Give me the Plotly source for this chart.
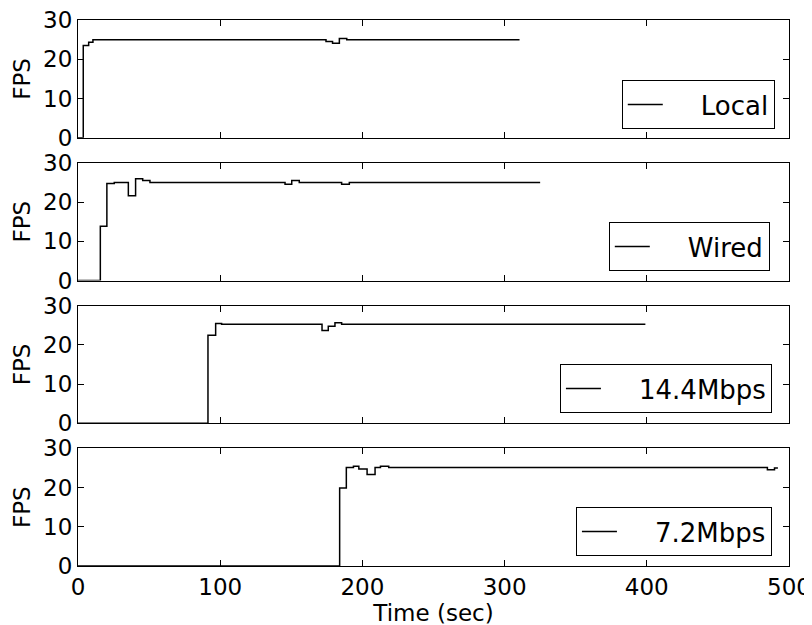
import plotly.graph_objects as go
from plotly.subplots import make_subplots

# ---- data (time in sec, FPS) ----
t_local = [0, 3.7, 7.5, 10.5, 174.4, 179.0, 183.8, 189.0, 310.5]
fps_local = [0, 23.5, 24.3, 25.0, 24.5, 24.1, 25.3, 25.0, 25.0]

t_wired = [0, 15.7, 20.3, 25.5, 35.4, 40.5, 45.5, 50.6, 145.6, 150.3, 155.6, 185.4, 190.8, 325.0]
fps_wired = [0, 13.8, 24.7, 25.0, 21.6, 25.9, 25.5, 25.0, 24.5, 25.5, 25.0, 24.5, 25.0, 25.0]

t_14 = [0, 91.4, 96.8, 101.0, 171.6, 176.0, 180.7, 185.4, 399.0]
fps_14 = [0, 22.4, 25.4, 25.2, 23.6, 24.7, 25.6, 25.2, 25.2]

t_72 = [0, 184.0, 188.7, 193.7, 197.5, 203.3, 208.9, 212.7, 218.5, 484.8, 489.8, 492.2]
fps_72 = [0, 19.9, 25.1, 25.4, 24.7, 23.3, 25.1, 25.4, 25.1, 24.5, 25.0, 25.0]

series = [
    ("Local", t_local, fps_local),
    ("Wired", t_wired, fps_wired),
    ("14.4Mbps", t_14, fps_14),
    ("7.2Mbps", t_72, fps_72),
]

x_ticks = [0, 100, 200, 300, 400, 500]
y_ticks = [0, 10, 20, 30]

FONT = "DejaVu Sans"
PAD = "\u00a0" * 4

fig = make_subplots(rows=4, cols=1, shared_xaxes=True, vertical_spacing=25 / 546)

legend_pos = [(0.980, 0.800), (0.973, 0.540), (0.976, 0.280), (0.976, 0.018)]

for i, (name, t, f) in enumerate(series):
    lg = "legend" if i == 0 else f"legend{i+1}"
    fig.add_trace(
        go.Scatter(x=t, y=f, mode="lines", name=PAD + name,
                   line=dict(color="black", width=1.5, shape="hv"),
                   legend=lg, showlegend=True),
        row=i + 1, col=1)
    lx, ly = legend_pos[i]
    fig.update_layout({lg: dict(x=lx, y=ly, xanchor="right", yanchor="bottom",
                                bordercolor="black", borderwidth=1, bgcolor="white",
                                font=dict(family=FONT, size=26, color="black"),
                                itemwidth=35, tracegroupgap=0)})
    fig.update_yaxes(row=i + 1, col=1, range=[0, 30], tickvals=y_ticks,
                     ticks="inside", ticklen=6, tickcolor="black", mirror="ticks",
                     showline=True, linecolor="black", linewidth=1, showgrid=False, zeroline=False,
                     automargin=False, ticklabeloverflow="allow",
                     tickfont=dict(family=FONT, size=23, color="black"),
                     title=dict(text="FPS", font=dict(family=FONT, size=23, color="black"), standoff=6))
    fig.update_xaxes(row=i + 1, col=1, range=[0, 500], tickvals=x_ticks,
                     ticks="inside", ticklen=6, tickcolor="black", mirror="ticks",
                     showline=True, linecolor="black", linewidth=1, showgrid=False, zeroline=False,
                     automargin=False, ticklabeloverflow="allow",
                     tickfont=dict(family=FONT, size=23, color="black"),
                     showticklabels=(i == 3))

fig.update_xaxes(row=4, col=1, title=dict(text="Time (sec)", font=dict(family=FONT, size=23, color="black"), standoff=0))

fig.update_layout(width=812, height=625, margin=dict(l=70, r=31, t=12, b=67, autoexpand=False),
                  plot_bgcolor="white", paper_bgcolor="white",
                  font=dict(family=FONT, color="black"))

fig.write_html("out.html")
